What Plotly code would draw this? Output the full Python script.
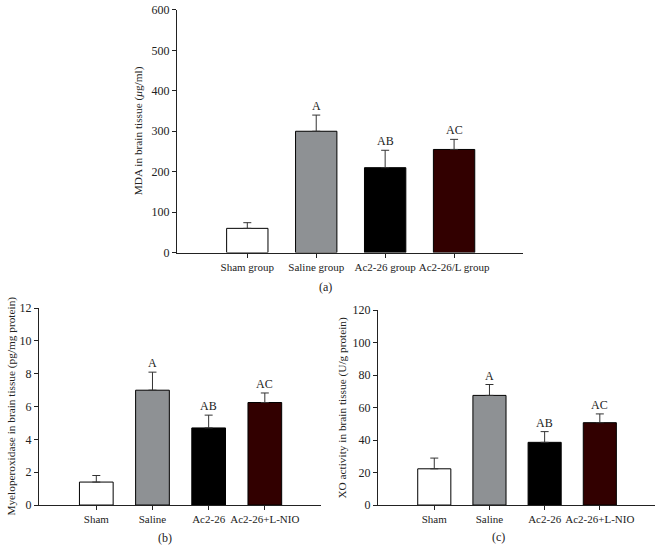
import plotly.graph_objects as go

# ---- data ----
cats_a = ["Sham group", "Saline group", "Ac2-26 group", "Ac2-26/L group"]
cats_bc = ["Sham", "Saline", "Ac2-26", "Ac2-26+L-NIO"]
letters = ["", "A", "AB", "AC"]

mda_vals = [60, 300, 210, 255]
mda_err = [14, 40, 43, 25]

mpo_vals = [1.4, 7.0, 4.7, 6.25]
mpo_err = [0.4, 1.1, 0.78, 0.58]

xo_vals = [22.3, 67.5, 38.6, 50.7]
xo_err = [6.6, 6.7, 6.6, 5.4]

colors = ["#ffffff", "#8e9194", "#000000", "#320000"]
FONT = "Liberation Serif, Times New Roman, serif"
TXT = "#222222"

fig = go.Figure()

panels = [
    ("x", "y", cats_a, mda_vals, mda_err),
    ("x2", "y2", cats_bc, mpo_vals, mpo_err),
    ("x3", "y3", cats_bc, xo_vals, xo_err),
]
xs = list(range(4))
annotations = []
for xa, ya, cats, vals, err in panels:
    fig.add_trace(go.Bar(
        x=xs, y=vals, xaxis=xa, yaxis=ya, width=0.6,
        marker=dict(color=colors, line=dict(color="#000000", width=1)),
        error_y=dict(type="data", array=err, arrayminus=[0] * len(err), symmetric=False,
                     color="#333333", thickness=1, width=4),
        showlegend=False, hoverinfo="skip",
    ))
    for i, (v, e, t) in enumerate(zip(vals, err, letters)):
        if t:
            annotations.append(dict(x=i, y=v + e, xref=xa, yref=ya, text=t, showarrow=False,
                                    yanchor="bottom", xanchor="center", yshift=0,
                                    font=dict(family=FONT, size=12, color=TXT)))

def xax(domain, cats, anchor):
    return dict(domain=domain, anchor=anchor, range=[-1.02, 4.0], tickmode="array",
                tickvals=xs, ticktext=cats, tickangle=0, showline=True, linecolor="#222222",
                linewidth=1, ticks="outside", ticklen=4, tickcolor="#222222", showgrid=False,
                zeroline=False, tickfont=dict(family=FONT, size=11, color=TXT), fixedrange=True)

def yax(domain, rng, dtick, anchor):
    return dict(domain=domain, anchor=anchor, range=rng, dtick=dtick, showline=True,
                linecolor="#222222", linewidth=1, ticks="outside", ticklen=4, tickcolor="#222222",
                showgrid=False, zeroline=False, tickfont=dict(family=FONT, size=12, color=TXT),
                fixedrange=True)

W, H = 656, 552
def px(x):
    return x / W
def py(y):
    return (H - y) / H

layout = dict(
    width=W, height=H, margin=dict(l=0, r=0, t=0, b=0),
    paper_bgcolor="white", plot_bgcolor="white",
    xaxis=xax([px(177), px(523)], cats_a, "y"),
    yaxis=yax([py(252), py(3)], [0, 600], 100, "x"),
    xaxis2=xax([px(39), px(321)], cats_bc, "y2"),
    yaxis2=yax([py(511), py(309)], [0, 12], 2, "x2"),
    xaxis3=xax([px(378), px(655)], cats_bc, "y3"),
    yaxis3=yax([py(511), py(311)], [0, 120], 20, "x3"),
)

# axis titles and panel labels
side = [
    (138, (3 + 252) / 2, "MDA in brain tissue (<i>μ</i>g/ml)"),
    (12, (309 + 511) / 2, "Myeloperoxidase in brain tissue (pg/mg protein)"),
    (343, (311 + 511) / 2, "XO activity in brain tissue (U/g protein)"),
]
for x, y, t in side:
    annotations.append(dict(x=px(x), y=py(y), xref="paper", yref="paper", text=t, textangle=-90,
                            showarrow=False, xanchor="center", yanchor="middle",
                            font=dict(family=FONT, size=11.3, color=TXT)))
for x, y, t in [(325, 287, "(a)"), (165, 545, "(b)"), (498, 544, "(c)")]:
    annotations.append(dict(x=px(x), y=py(y), xref="paper", yref="paper", text=t,
                            showarrow=False, xanchor="center", yanchor="middle",
                            font=dict(family=FONT, size=12, color=TXT)))

layout["annotations"] = annotations
fig.update_layout(**layout)
fig.write_html("out.html", config={"displayModeBar": False},
               post_script="document.body.style.margin='0';document.body.style.overflow='hidden';")
